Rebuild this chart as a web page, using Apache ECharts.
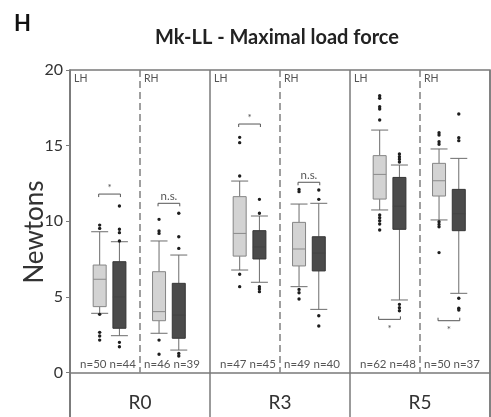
<!DOCTYPE html>
<html>
<head>
<meta charset="utf-8">
<script src="https://cdn.jsdelivr.net/npm/echarts@6/dist/echarts.min.js"></script>
<style>
html,body{margin:0;padding:0;background:#fff;}
#chart{width:491px;height:417px;}
</style>
</head>
<body>
<div id="chart"></div>
<script>
// ---------- data ----------
const categories = ['R0', 'R3', 'R5'];
const hands = ['LH', 'RH'];
const yTicks = [0, 5, 10, 15, 20];
// order of panels: R0-LH, R0-RH, R3-LH, R3-RH, R5-LH, R5-RH
// boxes: [lower whisker, Q1, median, Q3, upper whisker]
const lightBoxes = [
  [3.92, 4.36, 6.17, 7.11, 9.31],
  [2.60, 3.43, 4.03, 6.67, 8.70],
  [6.78, 7.70, 9.20, 11.63, 12.66],
  [5.68, 7.05, 8.17, 9.93, 11.14],
  [10.75, 11.47, 13.10, 14.34, 16.03],
  [10.09, 11.67, 12.68, 13.83, 14.78]
];
const darkBoxes = [
  [2.44, 2.93, 5.00, 7.33, 8.65],
  [1.49, 2.27, 3.80, 5.90, 7.77],
  [5.97, 7.51, 8.30, 9.38, 10.35],
  [4.18, 6.72, 7.90, 8.98, 11.19],
  [4.80, 9.47, 11.00, 12.90, 13.72],
  [5.24, 9.38, 10.50, 12.11, 14.16]
];
const lightOutliers = [
  [9.75, 9.53, 3.85, 2.66, 2.42, 2.15],
  [10.13, 9.36, 9.20, 2.15, 1.21],
  [15.55, 15.20, 12.99, 6.50, 5.68],
  [12.11, 11.96, 5.50, 5.28, 4.86],
  [18.30, 18.13, 17.57, 17.42, 16.70, 10.42, 10.24, 10.04, 9.82, 9.43],
  [15.86, 15.70, 15.26, 15.09, 9.97, 9.80, 9.64, 7.93]
];
const darkOutliers = [
  [11.01, 9.47, 9.25, 8.70, 2.00, 1.71],
  [10.53, 8.98, 8.21, 1.27, 1.10],
  [11.45, 10.53, 5.68, 5.53, 5.35],
  [12.07, 11.45, 3.76, 3.08],
  [14.45, 14.27, 14.10, 13.92, 4.51, 4.29, 4.09],
  [17.09, 15.53, 15.33, 4.91, 4.25, 4.14]
];
const nLight = [50, 46, 47, 49, 62, 50];
const nDark = [44, 39, 45, 40, 48, 37];
const sigText = ['*', 'n.s.', '*', 'n.s.', '*', '*'];
const sigLevel = [11.80, 11.19, 16.43, 12.58, 3.52, 3.43];
const sigBelow = [false, false, false, false, true, true];

// ---------- layout constants ----------
const SLOT_OFFSETS = [-0.288, -0.147, 0.136, 0.277]; // fraction of band width from band centre
const BOX_W = 13, CAP_W = 17;
const FONT = 'Lato, "Open Sans", sans-serif';
const FRAME = '#7a7a7a';

// build data items
const boxData = [], outlierData = [], panelData = [];
for (let i = 0; i < 6; i++) {
  const g = Math.floor(i / 2), half = i % 2;
  boxData.push([g, half * 2, 0].concat(lightBoxes[i]));
  boxData.push([g, half * 2 + 1, 1].concat(darkBoxes[i]));
  lightOutliers[i].forEach(v => outlierData.push([g, half * 2, v]));
  darkOutliers[i].forEach(v => outlierData.push([g, half * 2 + 1, v]));
  panelData.push([g, half, i]);
}

function slotX(api, g, slot) {
  const c = api.coord([g, 0]);
  const bw = api.size([1, 0])[0];
  return c[0] + SLOT_OFFSETS[slot] * bw;
}

function renderBox(params, api) {
  const g = api.value(0), slot = api.value(1), kind = api.value(2);
  const x = slotX(api, g, slot);
  const y = [3, 4, 5, 6, 7].map(d => api.coord([g, api.value(d)])[1]);
  const fill = kind === 0 ? '#d3d3d3' : '#4b4b4b';
  const stroke = kind === 0 ? '#858585' : '#353535';
  const medCol = kind === 0 ? '#8a8a8a' : '#444444';
  const wcol = '#6c6c6c';
  const ln = (x1, y1, x2, y2, c) => ({type: 'line', shape: {x1, y1, x2, y2}, style: {stroke: c, lineWidth: 1}});
  return {
    type: 'group',
    children: [
      ln(x, y[4], x, y[3], wcol),
      ln(x, y[1], x, y[0], wcol),
      ln(x - CAP_W / 2, y[4], x + CAP_W / 2, y[4], wcol),
      ln(x - CAP_W / 2, y[0], x + CAP_W / 2, y[0], wcol),
      {type: 'rect', shape: {x: x - BOX_W / 2, y: y[3], width: BOX_W, height: y[1] - y[3]},
       style: {fill: fill, stroke: stroke, lineWidth: 1}},
      ln(x - BOX_W / 2, y[2], x + BOX_W / 2, y[2], medCol)
    ]
  };
}

function renderOutlier(params, api) {
  const g = api.value(0), slot = api.value(1);
  const x = slotX(api, g, slot);
  const y = api.coord([g, api.value(2)])[1];
  return {type: 'circle', shape: {cx: x, cy: y, r: 1.7}, style: {fill: '#1e1e1e'}};
}

function renderPanel(params, api) {
  const g = api.value(0), half = api.value(1), i = api.value(2);
  const c = api.coord([g, 0]);
  const bw = api.size([1, 0])[0];
  const yTop = api.coord([g, 20])[1];
  const y0 = c[1];
  const children = [];
  const left = half === 0 ? c[0] - bw / 2 : c[0];
  if (half === 1) {
    children.push({type: 'line', shape: {x1: c[0], y1: yTop, x2: c[0], y2: y0},
      style: {stroke: '#808080', lineWidth: 1.5, lineDash: [7, 4]}});
  }
  children.push({type: 'text', x: left + 4, y: yTop + 3,
    style: {text: hands[half], font: '10.5px ' + FONT, fill: '#555', textAlign: 'left', textVerticalAlign: 'top'}});
  const nx = half === 0 ? c[0] - bw / 4 + 3 : c[0] + bw / 4 - 3;
  children.push({type: 'text', x: nx, y: y0 - 8,
    style: {text: 'n=' + nLight[i] + ' n=' + nDark[i], font: '11.5px ' + FONT, fill: '#555', textAlign: 'center', textVerticalAlign: 'middle'}});
  // significance bracket
  const x1 = slotX(api, g, half * 2), x2 = slotX(api, g, half * 2 + 1);
  const ys = api.coord([g, sigLevel[i]])[1];
  const dir = sigBelow[i] ? -1 : 1;
  children.push({type: 'polyline', shape: {points: [[x1 - 1, ys + 3 * dir], [x1 - 1, ys], [x2 + 1, ys], [x2 + 1, ys + 3 * dir]]},
    style: {stroke: '#555', lineWidth: 1, fill: null}});
  const isStar = sigText[i] === '*';
  children.push({type: 'text', x: (x1 + x2) / 2, y: sigBelow[i] ? ys + (isStar ? 9 : 8) : ys - (isStar ? 6 : 7),
    style: {text: sigText[i], font: (isStar ? '10px ' : '11.5px ') + FONT, fill: '#555', textAlign: 'center', textVerticalAlign: 'middle'}});
  return {type: 'group', children};
}

const chart = echarts.init(document.getElementById('chart'), null, {renderer: 'canvas'});
chart.setOption({
  animation: false,
  backgroundColor: '#fff',
  title: {
    text: 'Mk-LL - Maximal load force',
    left: 277, top: 28, textAlign: 'center', padding: 0,
    textStyle: {fontFamily: FONT, fontWeight: 'bold', fontSize: 20, color: '#222'}
  },
  graphic: [
    {type: 'text', left: 14, top: 13, style: {text: 'H', font: 'bold 22px ' + FONT, fill: '#111'}},
    {type: 'text', x: 35, y: 232, rotation: Math.PI / 2,
     style: {text: 'Newtons', font: '26px ' + FONT, fill: '#333', textAlign: 'center', textVerticalAlign: 'middle'}}
  ],
  grid: {left: 70, right: 1, top: 70, bottom: -1, show: true, borderColor: FRAME, borderWidth: 1.5,
         backgroundColor: 'transparent', containLabel: false, outerBoundsMode: 'none'},
  xAxis: {
    type: 'category', data: categories,
    axisLine: {onZero: true, lineStyle: {color: FRAME, width: 1.5}},
    axisTick: {show: false},
    splitLine: {show: true, lineStyle: {color: FRAME, width: 1.5}},
    axisLabel: {margin: -15, verticalAlign: 'middle', fontFamily: FONT, fontSize: 19, color: '#333'}
  },
  yAxis: {
    type: 'value', min: -3, max: 20,
    axisLine: {show: true, onZero: false, lineStyle: {color: FRAME, width: 1.5}},
    axisTick: {show: true, length: 4, customValues: yTicks, lineStyle: {color: FRAME}},
    axisLabel: {customValues: yTicks, margin: 7, fontFamily: FONT, fontSize: 16, color: '#333'},
    splitLine: {show: false}
  },
  series: [
    {type: 'custom', renderItem: renderPanel, data: panelData, z: 1, silent: true},
    {type: 'custom', renderItem: renderBox, data: boxData, z: 2, silent: true},
    {type: 'custom', renderItem: renderOutlier, data: outlierData, z: 3, silent: true}
  ]
});
</script>
</body>
</html>
